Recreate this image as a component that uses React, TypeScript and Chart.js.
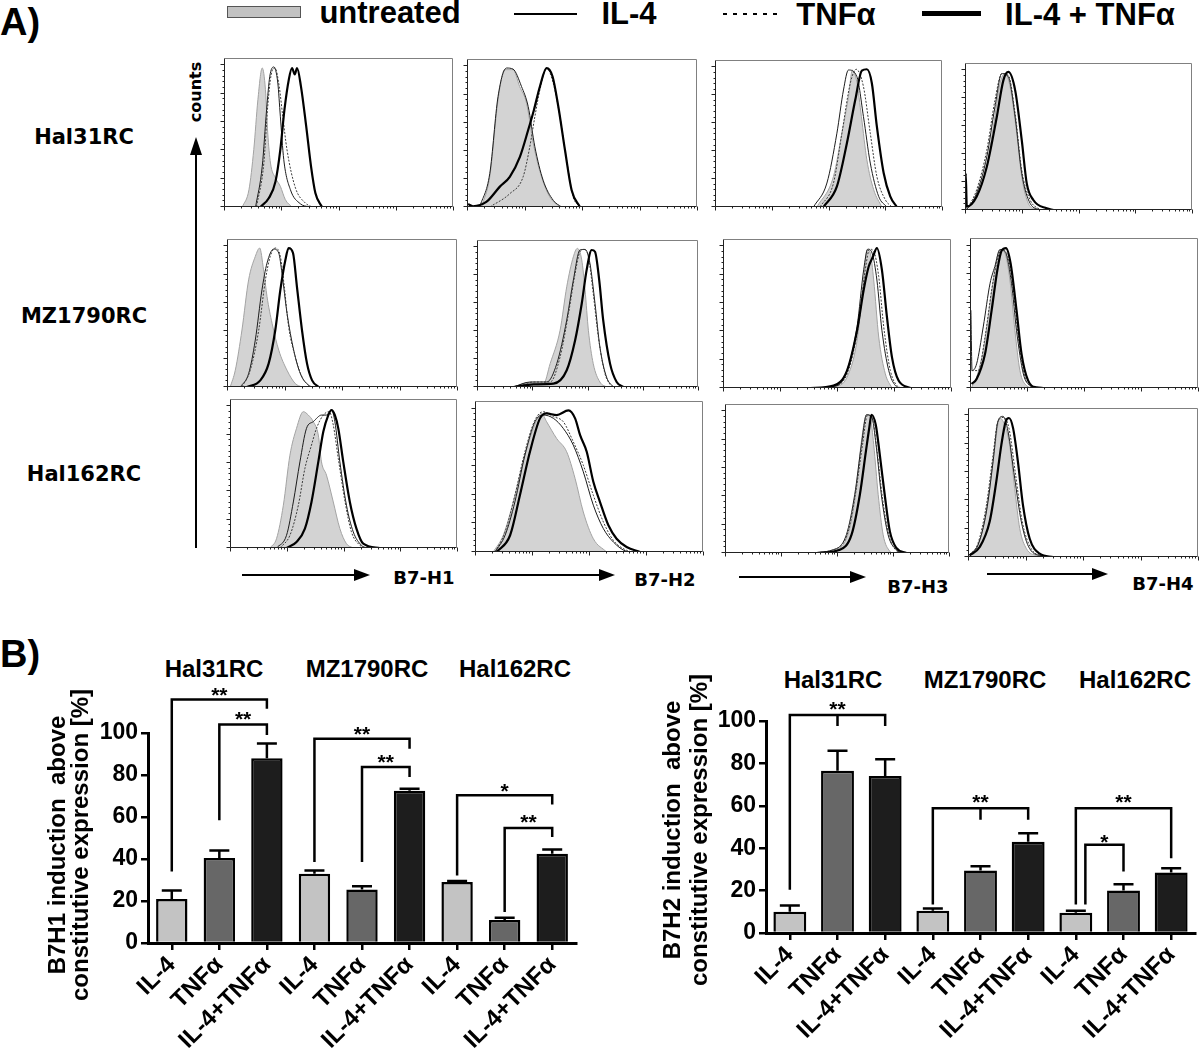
import React, { useEffect, useRef } from "react";
import { Chart, registerables } from "chart.js";

Chart.register(...registerables);

type Pt = [number, number];

// ================= Panel A : flow-cytometry histograms =================
// x = position on the 4-decade log fluorescence axis (0-100 %), y = counts (% of panel height)
const treatments = ["untreated", "IL-4", "TNFα", "IL-4 + TNFα"];
const cellLines = ["Hal31RC", "MZ1790RC", "Hal162RC"];
const markers = ["B7-H1", "B7-H2", "B7-H3", "B7-H4"];

// --- Hal31RC ---
const hal31_h1_untreated: Pt[] = [[8,0],[10.9,11.6],[13,38.5],[14.8,72],[16.7,93.3],[18.1,78.7],[19.1,49.7],[20.3,29.5],[22.5,19.5],[24.6,13.9],[26.8,4.9],[29.7,0]];
const hal31_h1_il4: Pt[] = [[13.8,0],[16.7,27.3],[18.6,65.3],[20,87.7],[21.7,94],[23.5,83.2],[24.6,60.9],[26.1,31.8],[29,11.6],[33.3,2.2],[37,0]];
const hal31_h1_tnf: Pt[] = [[14.2,0],[17.4,29.5],[19.1,67.6],[20.6,88.8],[22.3,93.3],[24.1,81],[25.5,63.1],[27.5,38.5],[31.2,12.8],[35.5,2.7],[38.4,0]];
const hal31_h1_combo: Pt[] = [[15.9,0],[19.6,6],[22.5,17.2],[24.6,38.5],[26.4,65.3],[28.3,85.5],[29.7,93.3],[30.9,89],[31.9,93.3],[33.6,81],[35.9,54.1],[38,27.3],[39.9,9.4],[42.8,0]];

const hal31_h2_untreated: Pt[] = [[6.3,0],[9.9,20.4],[13.5,72.4],[16.4,92.8],[20,92.8],[22.9,81.4],[25.9,70.1],[28.8,43],[32.4,20.4],[36,6.8],[40.4,0]];
const hal31_h2_il4: Pt[] = [[5.5,0],[9.9,22.6],[13.5,74.7],[17.2,93.9],[20,93.2],[23.7,81.4],[26.6,67.9],[29.5,40.7],[33.1,18.1],[37.5,4.5],[41.1,0]];
const hal31_h2_tnf: Pt[] = [[9.9,0],[18.6,9],[24.4,20.4],[27.3,40.7],[29.5,61],[31.7,79.2],[34.6,93.9],[37.5,83.7],[40.4,61],[43.3,31.7],[46.2,6.8],[49.1,0]];
const hal31_h2_combo: Pt[] = [[0.5,2],[2.6,0.5],[8.4,3.4],[14.2,13.6],[18.6,20.4],[23,33.9],[26.6,52],[29.1,65.6],[31.7,81.4],[34.6,93.9],[37.2,88.2],[39.7,67.9],[42.6,38.5],[45.5,11.3],[49.1,0]];

const hal31_h3_untreated: Pt[] = [[44.9,0],[52.2,20.8],[55.9,50.2],[58.8,75],[60.5,93],[62.5,85],[64.5,61.5],[66.9,32.1],[69.9,11.8],[73.5,0]];
const hal31_h3_il4: Pt[] = [[43.4,0],[49.3,16.3],[53.7,50.2],[56.6,79.6],[58.8,93.2],[62.5,88.7],[65.4,61.5],[68.4,29.9],[72.1,7.2],[75.7,0]];
const hal31_h3_tnf: Pt[] = [[46.3,0],[52.2,16.3],[55.9,50.2],[59.6,84.2],[62.2,93.7],[65.4,81.9],[68.4,50.2],[71.3,20.8],[75,5],[77.9,0]];
const hal31_h3_combo: Pt[] = [[47.8,0],[53.7,14],[58.1,43.4],[61.8,72.9],[64.7,92.8],[66.9,93.7],[69.1,84.2],[71.3,54.8],[74.3,23.1],[77.2,7.2],[80.1,0]];

const hal31_h4_untreated: Pt[] = [[1.5,2],[5.1,9],[8.8,24.9],[12.5,56.6],[15.4,86],[17.6,92.8],[19.9,83.7],[22.8,52],[25,22.6],[27.9,4.5],[31.6,0]];
const hal31_h4_il4: Pt[] = [[0.7,0],[5.1,11.3],[9.6,36.2],[13.2,70.1],[16.2,92.8],[19.1,90.5],[22.1,63.3],[25,24.9],[28.7,4.5],[33.1,0]];
const hal31_h4_tnf: Pt[] = [[0.7,0],[5.1,13.6],[9.6,40.7],[13.2,74.7],[16.2,92.8],[19.1,91.6],[22.1,65.6],[25,27.1],[28.7,6.8],[33.1,0]];
const hal31_h4_combo: Pt[] = [[0.1,0],[0.3,24.9],[0.8,2.3],[5.1,9],[9.6,29.4],[14,63.3],[16.9,88.2],[19.1,93.9],[22.1,81.4],[25,47.5],[27.2,18.1],[30.1,6.8],[36,1.1],[39,0]];

// --- MZ1790RC ---
const mz_h1_untreated: Pt[] = [[1.4,0],[3.6,11.3],[6.5,38.5],[9.4,72.4],[12.3,88.2],[14.2,93.9],[15.9,79.2],[17.4,61.1],[19.6,43],[22.5,24.9],[26.1,11.3],[29.7,2.3],[32.6,0]];
const mz_h1_il4: Pt[] = [[5.8,0],[9.4,9],[12.3,31.7],[15.2,65.6],[17.4,83.7],[20.3,93.2],[22.5,90.5],[23.9,76.9],[26.1,49.8],[29,24.9],[31.9,9],[35.5,1.1],[37.7,0]];
const mz_h1_tnf: Pt[] = [[6.5,0],[10.1,11.3],[13.8,38.5],[16.7,72.4],[18.8,88.2],[21,93.9],[23.2,88.2],[24.9,67.9],[26.8,40.7],[29.7,20.4],[32.6,6.8],[36.2,0]];
const mz_h1_combo: Pt[] = [[8.7,0],[14.5,4.5],[18.1,15.8],[21,38.5],[23.2,65.6],[25.4,86],[26.8,93.9],[28.7,90.5],[30.4,67.9],[32.6,38.5],[34.8,15.8],[37,4.5],[39.9,0]];

const mz_h2_untreated: Pt[] = [[16.5,0],[22.6,2.7],[30.1,2.3],[33.1,15.9],[37.6,38.6],[40.6,68.2],[43.6,88.6],[45.4,94.3],[47.4,86.4],[48.9,65.9],[50.4,38.6],[52.6,15.9],[55.6,3.4],[58.6,0]];
const mz_h2_il4: Pt[] = [[16.5,0],[24.1,3.4],[31.6,3.4],[36.1,15.9],[40.6,45.5],[43.6,72.7],[46.6,93.2],[48.9,93.6],[51.1,84.1],[53.4,56.8],[55.6,27.3],[58.6,6.8],[61.7,0]];
const mz_h2_tnf: Pt[] = [[18,0],[25.6,3.4],[33.1,3.4],[37.6,20.5],[41.4,50],[44.4,77.3],[46.6,92],[48.4,93.6],[50.4,88.6],[52.6,63.6],[54.9,34.1],[57.9,9.1],[60.9,0]];
const mz_h2_combo: Pt[] = [[16.5,0],[25.6,1.8],[34.6,2.3],[40.6,11.4],[44.4,31.8],[47.4,56.8],[49.6,79.5],[51.9,93.2],[53.4,92],[55.3,72.7],[57.1,45.5],[60.2,15.9],[63.2,3.4],[66.2,0]];

const mz_h3_untreated: Pt[] = [[48.5,0],[54.4,7.2],[58.8,32],[61.7,72.5],[63.2,92.8],[64.6,90.5],[66.1,72.5],[68.3,34.2],[71.2,9.5],[74.1,0]];
const mz_h3_il4: Pt[] = [[39.8,0],[50,1.6],[54.4,11.7],[58.8,41.2],[61.7,79.3],[63.5,93.2],[65.4,90.5],[67.5,72.5],[69.7,38.7],[72.7,11.7],[75.6,1.6],[77.8,0]];
const mz_h3_tnf: Pt[] = [[39.8,0],[50,1.6],[55,11.7],[59.5,43.2],[62.4,79.3],[64.3,93.2],[66.1,91.7],[68.3,74.8],[70.5,41],[73.4,11.7],[76.3,1.6],[78.5,0]];
const mz_h3_combo: Pt[] = [[38.3,0],[48.5,1.6],[54.4,11.7],[58.8,38.7],[61.7,65.8],[63.9,81.5],[65.8,88.3],[67.5,93.9],[69.7,79.3],[71.9,47.7],[74.1,20.7],[77,5],[82.2,0]];

const mz_h4_untreated: Pt[] = [[0.7,0.4],[2.9,7.2],[5.8,25.1],[8.8,56.4],[10.9,78.7],[13.1,92.2],[15.3,89.9],[17.5,72],[19.7,38.5],[21.9,11.6],[24.8,1.6],[27.7,0]];
const mz_h4_il4: Pt[] = [[0.1,0],[0.3,51.9],[0.9,11.6],[2.9,16.1],[5.8,40.7],[8.8,69.8],[10.9,81],[13.1,92.2],[15.3,91.1],[18.2,69.8],[20.4,38.5],[23.4,9.4],[26.3,1.6],[29.2,0]];
const mz_h4_tnf: Pt[] = [[0.7,11.6],[3.6,11.6],[6.6,34],[9.5,65.3],[12,85.5],[13.9,92.2],[16.1,89.9],[19,65.3],[21.2,34],[24.1,7.2],[27.7,0]];
const mz_h4_combo: Pt[] = [[0.7,2.7],[2.9,6],[6.6,22.8],[9.5,51.9],[12,78.7],[13.9,91.7],[15.8,93.3],[17.8,83.2],[20.4,51.9],[22.6,22.8],[25.5,4.9],[29.2,0.4],[32.1,0]];

// --- Hal162RC ---
const hal162_h1_untreated: Pt[] = [[17.6,0],[20.5,6.3],[23.5,28.7],[26.4,62.3],[29.3,80.3],[32.3,91.5],[34.5,89.2],[36.7,84.8],[38.9,75.8],[40.3,57.8],[42.5,48.9],[45.5,30.9],[48.4,13],[51.3,2.9],[54.3,0]];
const hal162_h1_il4: Pt[] = [[20.5,0],[24.9,8.5],[27.9,30.9],[30.8,57.8],[33.7,80.3],[36.7,84.8],[40.3,89.2],[42.5,89.2],[44.7,92.6],[46.2,84.8],[48.4,57.8],[51.3,28.7],[54.3,10.8],[57.9,1.8],[60.1,0]];
const hal162_h1_tnf: Pt[] = [[22,0],[26.4,8.5],[30.1,28.7],[33,53.4],[35.9,69.1],[38.1,80.3],[41.1,89.2],[43.7,91.5],[45.5,82.5],[47.7,60.1],[50.7,30.9],[53.5,10.8],[57.2,1.8],[59.4,0]];
const hal162_h1_combo: Pt[] = [[25,0],[29.3,4],[33,13],[35.9,30.9],[38.9,57.8],[41.1,78],[43.3,89.2],[44.7,92.6],[46.2,89.2],[47.7,80.3],[49.9,57.8],[52.8,30.9],[55.7,13],[58.7,2.9],[66,0]];

const hal162_h2_untreated: Pt[] = [[8,0],[12.4,11.1],[16.8,33.2],[21.1,59.7],[25.6,81.9],[29.2,91.8],[31.4,86.3],[35.8,75.2],[40.2,66.4],[43.9,48.7],[47.5,26.5],[51.9,8.8],[57.7,0]];
const hal162_h2_il4: Pt[] = [[8.8,0],[13.2,11.1],[17.5,33.2],[21.9,64.2],[26.3,86.3],[30,90.7],[34.4,88.5],[38.7,81.9],[43.1,70.8],[47.5,53.1],[51.9,31],[56.3,15.5],[60.7,6.6],[66.5,0.4],[69.4,0]];
const hal162_h2_tnf: Pt[] = [[8.8,0],[13.2,13.3],[17.5,37.6],[21.9,66.4],[26.3,87.4],[30,92.9],[34.4,89.6],[38.7,86.3],[43.1,73],[47.5,57.5],[51.9,37.6],[56.3,19.9],[60.7,7.7],[66.5,1.1],[69.4,0]];
const hal162_h2_combo: Pt[] = [[9.5,0],[15.4,11.1],[19.7,37.6],[24.1,66.4],[28.5,88.5],[31.4,91.8],[35.8,90.7],[41,93.8],[43.9,88.5],[46.1,77.4],[49,66.4],[51.9,46.5],[54.8,33.2],[58.5,17.7],[62.1,8.8],[66.5,3.3],[72.4,0]];

const hal162_h3_untreated: Pt[] = [[40.9,0],[51.3,3.4],[55.7,16.8],[58.7,43.6],[60.9,74.9],[63.2,92.8],[64.9,90.6],[66.4,72.7],[68.4,39.1],[70.6,12.3],[73.6,1.1],[75,0]];
const hal162_h3_il4: Pt[] = [[36.4,0],[48.3,2.2],[54.2,12.3],[57.9,39.1],[60.9,72.7],[63.2,92.8],[65.4,91.7],[67.6,70.5],[69.8,39.1],[72.8,12.3],[76.5,2.2],[79.5,0]];
const hal162_h3_tnf: Pt[] = [[37.9,0],[49.8,2.9],[55,14.5],[58.4,41.4],[61.4,72.7],[63.6,92.4],[65.7,90.6],[67.9,68.2],[70.3,36.9],[73.3,11.2],[76.5,1.6],[79.5,0]];
const hal162_h3_combo: Pt[] = [[40.9,0],[51.3,2.2],[56.5,12.3],[60.2,39.1],[62.9,68.2],[64.4,83.9],[65.4,92.8],[67.3,86.1],[69.1,66],[71.3,39.1],[73.6,14.5],[76.5,3.4],[81,0]];

const hal162_h4_untreated: Pt[] = [[0.7,1.1],[3.6,5.6],[6.5,19.1],[9.4,46.1],[11.6,73],[13.8,93.3],[15.9,88.8],[18.1,75.3],[20.3,46.1],[22.5,19.1],[25.4,5.6],[29.7,1.1],[35.5,0]];
const hal162_h4_il4: Pt[] = [[0.7,1.6],[4.3,7.9],[8,30.3],[10.9,64],[13,91],[15.2,94.4],[17.4,84.3],[20.3,52.8],[23.2,23.6],[26.8,5.6],[32.6,0.7],[37,0]];
const hal162_h4_tnf: Pt[] = [[0.7,1.6],[4.3,9],[8,34.8],[10.9,68.5],[13,91],[15.5,93.7],[17.8,86.5],[20.7,55.1],[23.6,23.6],[27.5,5.6],[32.6,0.7],[37,0]];
const hal162_h4_combo: Pt[] = [[0.7,1.1],[5.1,6.7],[9.4,23.6],[12.3,50.6],[14.5,75.3],[16.4,91],[17.8,93.3],[19.6,86.5],[21.7,64],[23.9,34.8],[26.8,12.4],[31.2,2.2],[37,0]];

const histRows: Pt[][][][] = [
  [
    [hal31_h1_untreated, hal31_h1_il4, hal31_h1_tnf, hal31_h1_combo],
    [hal31_h2_untreated, hal31_h2_il4, hal31_h2_tnf, hal31_h2_combo],
    [hal31_h3_untreated, hal31_h3_il4, hal31_h3_tnf, hal31_h3_combo],
    [hal31_h4_untreated, hal31_h4_il4, hal31_h4_tnf, hal31_h4_combo],
  ],
  [
    [mz_h1_untreated, mz_h1_il4, mz_h1_tnf, mz_h1_combo],
    [mz_h2_untreated, mz_h2_il4, mz_h2_tnf, mz_h2_combo],
    [mz_h3_untreated, mz_h3_il4, mz_h3_tnf, mz_h3_combo],
    [mz_h4_untreated, mz_h4_il4, mz_h4_tnf, mz_h4_combo],
  ],
  [
    [hal162_h1_untreated, hal162_h1_il4, hal162_h1_tnf, hal162_h1_combo],
    [hal162_h2_untreated, hal162_h2_il4, hal162_h2_tnf, hal162_h2_combo],
    [hal162_h3_untreated, hal162_h3_il4, hal162_h3_tnf, hal162_h3_combo],
    [hal162_h4_untreated, hal162_h4_il4, hal162_h4_tnf, hal162_h4_combo],
  ],
];

// panel frames on the page: [left, top, right, bottom]
const histBoxes: number[][][] = [
  [[224, 58, 453, 207], [467, 59, 697, 207], [715, 60, 942, 207], [965, 63, 1192, 210]],
  [[227, 239, 457, 387], [477, 240, 698, 387], [723, 239, 951, 388], [970, 238, 1198, 388]],
  [[230, 399, 457, 548], [475, 401, 703, 552], [725, 404, 949, 553], [968, 408, 1198, 557]],
];

// ================= Panel B : bar charts =================
const barLabels = ["IL-4", "TNFα", "IL-4+TNFα", "IL-4", "TNFα", "IL-4+TNFα", "IL-4", "TNFα", "IL-4+TNFα"];
const groupTitles = ["Hal31RC", "MZ1790RC", "Hal162RC"];
const yTickStep = 20;

const b7h1Mean = [21, 40.5, 88, 33, 25.5, 72.5, 29, 11, 42.5];
const b7h1ErrTop = [25, 44, 95, 34.5, 27, 73.5, 29.5, 12, 44.5];
const b7h2Mean = [10, 76.5, 74, 10.5, 29.5, 43, 9.5, 20, 28.5];
const b7h2ErrTop = [13, 86, 82, 11.5, 31.5, 47, 10.5, 23, 30.5];

type Bracket = { from: number; to: number; top: number; leftEnd: number; rightEnd: number; mid?: number; label: string; labelAt: number };
const b7h1Brackets: Bracket[] = [
  { from: 0, to: 2, top: 116, leftEnd: 34, rightEnd: 111.5, label: "**", labelAt: 120.5 },
  { from: 1, to: 2, top: 104, leftEnd: 58.5, rightEnd: 99, label: "**", labelAt: 109 },
  { from: 3, to: 5, top: 97.3, leftEnd: 38.6, rightEnd: 92.5, label: "**", labelAt: 102 },
  { from: 4, to: 5, top: 83.8, leftEnd: 38.6, rightEnd: 79, label: "**", labelAt: 88.6 },
  { from: 6, to: 8, top: 70.3, leftEnd: 32.2, rightEnd: 66, label: "*", labelAt: 75 },
  { from: 7, to: 8, top: 54.8, leftEnd: 14.8, rightEnd: 50.5, label: "**", labelAt: 60 },
];
const b7h2Brackets: Bracket[] = [
  { from: 0, to: 2, top: 102.8, leftEnd: 20.4, rightEnd: 97.6, mid: 1, label: "**", labelAt: 108 },
  { from: 3, to: 5, top: 58.9, leftEnd: 13.5, rightEnd: 53.4, mid: 4, label: "**", labelAt: 64 },
  { from: 6, to: 8, top: 58.9, leftEnd: 13.5, rightEnd: 35.3, label: "**", labelAt: 64 },
  { from: 6.2, to: 7, top: 41.6, leftEnd: 13.5, rightEnd: 29, label: "*", labelAt: 45.5 },
];
const b7h1Title = ["B7H1 induction  above", "constitutive expression [%]"];
const b7h2Title = ["B7H2 induction  above", "constitutive expression [%]"];

const barFills = ["#c3c3c3", "#676767", "#1d1d1d"];

const SANS = '"Liberation Sans", Arial, Helvetica, sans-serif';
const WIDE = '"DejaVu Sans", Verdana, sans-serif';

// ---------- histogram helpers ----------
const countTicks: number[] = [];
for (let i = 0; i <= 25; i++) countTicks.push(i * 3.8);
const logTicks: { v: number; major: boolean }[] = [];
for (let d = 0; d < 4; d++) for (let k = 1; k <= 9; k++) logTicks.push({ v: 25 * (d + Math.log10(k)), major: k === 1 });
logTicks.push({ v: 100, major: true });

const facsFrame = {
  id: "facsFrame",
  afterDatasetsDraw(chart: any) {
    const { ctx, chartArea: a, scales } = chart;
    const x = scales.x, y = scales.y;
    const L = Math.round(a.left) + 0.5, R = Math.round(a.right) - 0.5, T = Math.round(a.top) + 0.5, B = Math.round(a.bottom) - 0.5;
    ctx.save();
    ctx.lineWidth = 1;
    ctx.strokeStyle = "#808080";
    ctx.beginPath(); ctx.moveTo(L, T); ctx.lineTo(R, T); ctx.lineTo(R, B); ctx.stroke();
    ctx.strokeStyle = "#222";
    ctx.beginPath(); ctx.moveTo(L, T); ctx.lineTo(L, B); ctx.lineTo(R, B); ctx.stroke();
    ctx.beginPath();
    countTicks.forEach((v, i) => {
      const py = Math.round(y.getPixelForValue(v)) - 0.5;
      const len = i % 5 === 0 ? 4 : 2;
      ctx.moveTo(L - len, py); ctx.lineTo(L, py);
    });
    logTicks.forEach((t) => {
      const px = Math.round(x.getPixelForValue(t.v)) + 0.5;
      const len = t.major ? 4 : 2;
      ctx.moveTo(px, B); ctx.lineTo(px, B + len);
    });
    ctx.stroke();
    ctx.restore();
  },
};

const histStyles: any[] = [
  { fill: "origin", backgroundColor: "#d3d3d3", borderColor: "#a3a3a3", borderWidth: 1, order: 4 },
  { fill: false, borderColor: "#1c1c1c", borderWidth: 1, order: 3 },
  { fill: false, borderColor: "#3a3a3a", borderWidth: 1, borderDash: [2, 1.5], order: 2 },
  { fill: false, borderColor: "#000000", borderWidth: 2.2, order: 1 },
];

function histConfig(curves: Pt[][]): any {
  return {
    type: "line",
    data: {
      datasets: curves.map((c, i) => ({
        label: treatments[i],
        data: c.map(([x, y]) => ({ x, y })),
        pointRadius: 0,
        cubicInterpolationMode: "monotone",
        ...histStyles[i],
      })),
    },
    options: {
      animation: false,
      responsive: false,
      maintainAspectRatio: false,
      events: [],
      layout: { padding: { left: 8, right: 2, top: 2, bottom: 8 } },
      scales: {
        x: { type: "linear", min: 0, max: 100, display: false },
        y: { type: "linear", min: 0, max: 100, display: false },
      },
      plugins: { legend: { display: false }, tooltip: { enabled: false } },
    },
    plugins: [facsFrame],
  };
}

// ---------- bar chart helpers ----------
function makeBarMarks(p: { mean: number[]; errTop: number[]; brackets: Bracket[]; cap: number; title: string[]; titleX: number[]; titleY: number }) {
  return {
    id: "barMarks",
    afterDatasetsDraw(chart: any) {
      const { ctx, scales } = chart;
      const x = scales.x, y = scales.y;
      ctx.save();
      ctx.strokeStyle = "#000";
      ctx.fillStyle = "#000";
      ctx.lineWidth = 2.5;
      ctx.lineJoin = "miter";
      p.mean.forEach((m, i) => {
        const px = x.getPixelForValue(i);
        const y0 = y.getPixelForValue(m);
        const y1 = y.getPixelForValue(p.errTop[i]);
        ctx.beginPath();
        ctx.moveTo(px, y0); ctx.lineTo(px, y1);
        ctx.moveTo(px - p.cap / 2, y1); ctx.lineTo(px + p.cap / 2, y1);
        ctx.stroke();
      });
      ctx.font = `bold 21px ${SANS}`;
      ctx.textAlign = "center";
      ctx.textBaseline = "alphabetic";
      p.brackets.forEach((b) => {
        const x0 = x.getPixelForValue(b.from), x1 = x.getPixelForValue(b.to);
        const yt = y.getPixelForValue(b.top);
        ctx.beginPath();
        ctx.moveTo(x0, y.getPixelForValue(b.leftEnd));
        ctx.lineTo(x0, yt); ctx.lineTo(x1, yt);
        ctx.lineTo(x1, y.getPixelForValue(b.rightEnd));
        if (b.mid !== undefined) {
          const xm = x.getPixelForValue(b.mid);
          ctx.moveTo(xm, yt); ctx.lineTo(xm, y.getPixelForValue(b.rightEnd));
        }
        ctx.stroke();
        ctx.fillText(b.label, (x0 + x1) / 2, y.getPixelForValue(b.labelAt) + 12);
      });
      ctx.font = `bold 24px ${SANS}`;
      ctx.textBaseline = "middle";
      p.title.forEach((t, i) => {
        ctx.save();
        ctx.translate(p.titleX[i], p.titleY);
        ctx.rotate(-Math.PI / 2);
        ctx.fillText(t, 0, 0);
        ctx.restore();
      });
      ctx.restore();
    },
  };
}

function barConfig(o: { mean: number[]; errTop: number[]; brackets: Bracket[]; barPct: number; yWidth: number; xHeight: number; pad: any; cap: number; title: string[]; titleX: number[]; titleY: number }): any {
  return {
    type: "bar",
    data: {
      labels: barLabels,
      datasets: [{
        data: o.mean,
        backgroundColor: o.mean.map((_, i) => barFills[i % 3]),
        borderColor: "#000",
        borderWidth: 2.5,
        barPercentage: o.barPct,
        categoryPercentage: 1,
      }],
    },
    options: {
      animation: false,
      responsive: false,
      maintainAspectRatio: false,
      events: [],
      layout: { padding: o.pad },
      scales: {
        x: {
          type: "category",
          offset: true,
          z: 1,
          grid: { display: true, drawOnChartArea: false, drawTicks: true, tickLength: 7, offset: false, color: "#000", lineWidth: 2.5 },
          border: { display: true, color: "#000", width: 3 },
          ticks: { color: "#000", font: { family: SANS, size: 24, weight: "bold" }, minRotation: 45, maxRotation: 45, autoSkip: false, padding: 1 },
          afterFit: (s: any) => { s.height = o.xHeight; },
        },
        y: {
          min: 0,
          max: 100,
          z: 1,
          ticks: { stepSize: yTickStep, color: "#000", font: { family: SANS, size: 23, weight: "bold" }, padding: 3 },
          grid: { display: true, drawOnChartArea: false, drawTicks: true, tickLength: 7, color: "#000", lineWidth: 2.5 },
          border: { display: true, color: "#000", width: 3 },
          afterFit: (s: any) => { s.width = o.yWidth; },
        },
      },
      plugins: { legend: { display: false }, tooltip: { enabled: false } },
    },
    plugins: [makeBarMarks(o)],
  };
}

// ---------- React pieces ----------
function ChartBox(props: { left: number; top: number; width: number; height: number; make: () => any }) {
  const ref = useRef<HTMLCanvasElement | null>(null);
  useEffect(() => {
    const chart = new Chart(ref.current as HTMLCanvasElement, props.make());
    return () => chart.destroy();
  }, []);
  return (
    <canvas
      ref={ref}
      width={props.width}
      height={props.height}
      style={{ position: "absolute", left: props.left, top: props.top, width: props.width, height: props.height }}
    />
  );
}

function Txt(props: { x: number; y: number; size: number; family?: string; rotate?: number; children: any }) {
  return (
    <div
      style={{
        position: "absolute",
        left: props.x,
        top: props.y,
        transform: `translate(-50%, -50%) rotate(${props.rotate || 0}deg)`,
        fontFamily: props.family || SANS,
        fontWeight: 700,
        fontSize: props.size,
        lineHeight: 1,
        whiteSpace: "nowrap",
        color: "#000",
      }}
    >
      {props.children}
    </div>
  );
}

function HArrow(props: { x0: number; x1: number; y: number }) {
  const head = 16;
  return (
    <>
      <div style={{ position: "absolute", left: props.x0, top: props.y - 0.75, width: props.x1 - props.x0 - head + 2, height: 1.5, background: "#000" }} />
      <div style={{ position: "absolute", left: props.x1 - head, top: props.y - 6.5, width: 0, height: 0, borderTop: "6.5px solid transparent", borderBottom: "6.5px solid transparent", borderLeft: `${head}px solid #000` }} />
    </>
  );
}

export default function App() {
  const arrows = [
    { x0: 242, x1: 370, y: 575, lx: 424, ly: 578 },
    { x0: 490, x1: 615, y: 575, lx: 665, ly: 580 },
    { x0: 739, x1: 866, y: 577, lx: 918, ly: 587 },
    { x0: 987, x1: 1108, y: 574, lx: 1163, ly: 584 },
  ];
  const rowLabelY = [137, 316, 474];
  return (
    <div style={{ position: "fixed", left: 0, top: 0, width: 1200, height: 1049, background: "#fff", overflow: "hidden" }}>
      {/* ---- Panel A ---- */}
      <Txt x={20} y={22} size={38}>A)</Txt>
      <div style={{ position: "absolute", left: 227, top: 6, width: 72, height: 10, background: "#c2c2c2", border: "1px solid #555" }} />
      <Txt x={390} y={12} size={31}>{treatments[0]}</Txt>
      <div style={{ position: "absolute", left: 514, top: 13, width: 63, height: 1.5, background: "#000" }} />
      <Txt x={629} y={13} size={31}>{treatments[1]}</Txt>
      <div style={{ position: "absolute", left: 723, top: 13, width: 54, height: 1.5, background: "repeating-linear-gradient(to right, #000 0 4px, transparent 4px 10px)" }} />
      <Txt x={836} y={14} size={31}>{treatments[2]}</Txt>
      <div style={{ position: "absolute", left: 922, top: 11, width: 59, height: 5, background: "#000" }} />
      <Txt x={1090} y={14} size={31}>{treatments[3]}</Txt>

      {cellLines.map((c, i) => (
        <Txt key={c} x={84} y={rowLabelY[i]} size={21} family={WIDE}>{c}</Txt>
      ))}
      <Txt x={196} y={92} size={16} family={WIDE} rotate={-90}>counts</Txt>
      <div style={{ position: "absolute", left: 195.25, top: 152, width: 1.5, height: 396, background: "#000" }} />
      <div style={{ position: "absolute", left: 190, top: 137, width: 0, height: 0, borderLeft: "6px solid transparent", borderRight: "6px solid transparent", borderBottom: "18px solid #000" }} />

      {histBoxes.map((row, r) =>
        row.map((b, c) => (
          <ChartBox
            key={`h${r}${c}`}
            left={b[0] - 8}
            top={b[1] - 2}
            width={b[2] - b[0] + 10}
            height={b[3] - b[1] + 10}
            make={() => histConfig(histRows[r][c])}
          />
        ))
      )}

      {arrows.map((a, i) => (
        <React.Fragment key={`a${i}`}>
          <HArrow x0={a.x0} x1={a.x1} y={a.y} />
          <Txt x={a.lx} y={a.ly} size={18} family={WIDE}>{markers[i]}</Txt>
        </React.Fragment>
      ))}

      {/* ---- Panel B ---- */}
      <Txt x={20} y={654} size={38}>B)</Txt>
      {groupTitles.map((g, i) => (
        <Txt key={`gl${i}`} x={[214, 367, 515][i]} y={669} size={24}>{g}</Txt>
      ))}
      {groupTitles.map((g, i) => (
        <Txt key={`gr${i}`} x={[833, 985, 1135][i]} y={680} size={24}>{g}</Txt>
      ))}

      <ChartBox
        left={0}
        top={640}
        width={600}
        height={409}
        make={() =>
          barConfig({
            mean: b7h1Mean, errTop: b7h1ErrTop, brackets: b7h1Brackets, barPct: 0.66,
            yWidth: 148, xHeight: 106, pad: { top: 93, right: 24, left: 0, bottom: 0 }, cap: 20,
            title: b7h1Title, titleX: [58, 81], titleY: 205,
          })
        }
      />
      <ChartBox
        left={600}
        top={640}
        width={600}
        height={409}
        make={() =>
          barConfig({
            mean: b7h2Mean, errTop: b7h2ErrTop, brackets: b7h2Brackets, barPct: 0.69,
            yWidth: 166, xHeight: 116, pad: { top: 81, right: 5, left: 0, bottom: 0 }, cap: 20,
            title: b7h2Title, titleX: [73, 100], titleY: 190,
          })
        }
      />
    </div>
  );
}
